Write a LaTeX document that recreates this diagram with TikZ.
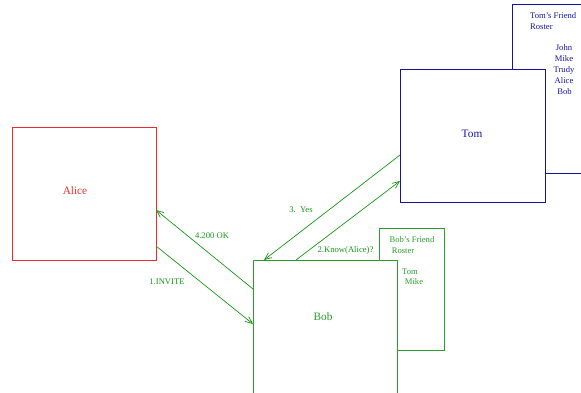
\documentclass[tikz,border=0pt]{standalone}
\usepackage{fontspec}
\setmainfont{Liberation Serif}
\usetikzlibrary{arrows.meta}
\definecolor{alicered}{RGB}{235,45,45}
\definecolor{tomblue}{RGB}{20,20,160}
\definecolor{bobgreen}{RGB}{40,160,40}
\definecolor{msggreen}{RGB}{20,150,20}
\begin{document}
\begin{tikzpicture}[x=1pt,y=-1pt,
  party/.style={draw,fill=white,line width=0.9pt,inner sep=0pt,anchor=north west},
  roster/.style={draw,fill=white,line width=0.9pt,inner sep=0pt,anchor=north west},
  lbl/.style={font=\fontsize{11.3}{13}\selectfont},
  small/.style={font=\fontsize{8.6}{10}\selectfont,inner sep=0pt},
  msg/.style={draw=msggreen,line width=0.7pt,-{Straight Barb[length=7pt,width=6pt]}},
  msglbl/.style={font=\fontsize{8.6}{10}\selectfont,text=msggreen,inner sep=0pt}]
\useasboundingbox (0,0) rectangle (581,392);
\clip (0,0) rectangle (581,392);

% Tom's friend roster, behind Tom
\node[roster,draw=tomblue,minimum width=110pt,minimum height=169pt] (tomroster) at (512,4) {};
\node[small,text=tomblue,anchor=west] (tr1) at (530,16) {Tom's Friend};
\node[small,text=tomblue,anchor=west] (tr2) at (530,27) {Roster};
\node[small,text=tomblue] (tr3) at (564,48) {John};
\node[small,text=tomblue] (tr4) at (564,59) {Mike};
\node[small,text=tomblue] (tr5) at (564,70) {Trudy};
\node[small,text=tomblue] (tr6) at (564,81) {Alice};
\node[small,text=tomblue] (tr7) at (564.5,92) {Bob};

% Tom
\node[party,draw=tomblue,minimum width=145pt,minimum height=133pt] (tom) at (400,69) {};
\node[lbl,text=tomblue] (tomlbl) at (472,134) {Tom};

% Alice
\node[party,draw=alicered,minimum width=144pt,minimum height=133pt] (alice) at (12,127) {};
\node[lbl,text=alicered] (alicelbl) at (75,191) {Alice};

% Bob's friend roster, behind Bob
\node[roster,draw=bobgreen,minimum width=65pt,minimum height=122pt] (bobroster) at (379,228) {};
\node[small,text=bobgreen] (br1) at (412,240) {Bob's Friend};
\node[small,text=bobgreen] (br2) at (403,251) {Roster};
\node[small,text=bobgreen] (br3) at (410,272) {Tom};
\node[small,text=bobgreen] (br4) at (414,282) {Mike};

% Bob
\node[party,draw=bobgreen,minimum width=144pt,minimum height=150pt] (bob) at (253,260) {};
\node[lbl,text=bobgreen] (boblbl) at (323,317) {Bob};

% message end points on the box borders
\coordinate (aliceA) at (156,246);
\coordinate (aliceB) at (156,210);
\coordinate (bobA) at (253,324);
\coordinate (bobB) at (253,289);
\coordinate (bobC) at (264,260);
\coordinate (bobD) at (296,260);
\coordinate (tomA) at (400,155);
\coordinate (tomB) at (400,181);

% SIP messages
\draw[msg] (aliceA) -- (bobA);
\draw[msg] (bobD) -- (tomB);
\draw[msg] (tomA) -- (bobC);
\draw[msg] (bobB) -- (aliceB);

\node[msglbl] (m1) at (167,282) {1.INVITE};
\node[msglbl] (m2) at (345.5,250) {2.Know(Alice)?};
\node[msglbl] (m3) at (301,210) {3.\ \ Yes};
\node[msglbl] (m4) at (212,236) {4.200 OK};
\end{tikzpicture}
\end{document}
